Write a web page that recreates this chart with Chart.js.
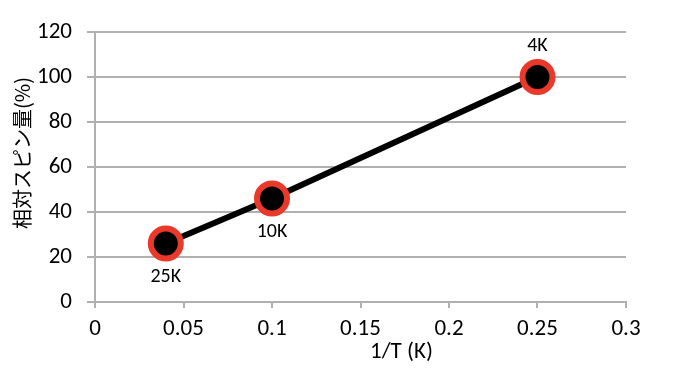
<!DOCTYPE html>
<html>
<head>
<meta charset="utf-8">
<script src="https://cdn.jsdelivr.net/npm/chart.js@4.4.1/dist/chart.umd.min.js"></script>
<style>
  html, body { margin: 0; padding: 0; background: #fff; }
</style>
</head>
<body>
<canvas id="chart" width="674" height="378"></canvas>
<script>
// data
const INV_T = [0.04, 0.1, 0.25];
const SPIN = [26, 46, 100];
const TEMP_LABELS = ['25K', '10K', '4K'];
const LABEL_ABOVE = [false, false, true];

const FONT = "Carlito, Lato, 'Open Sans', sans-serif";
const GRID = '#b0b0b0';

// labels next to the points + axis titles
const textPlugin = {
    id: 'texts',
    afterDatasetsDraw(chart) {
        const ctx = chart.ctx;
        const meta = chart.getDatasetMeta(0);
        ctx.save();
        ctx.fillStyle = '#000';
        ctx.font = '20px ' + FONT;
        ctx.textAlign = 'center';
        ctx.textBaseline = 'middle';
        meta.data.forEach((pt, i) => {
            const dy = LABEL_ABOVE[i] ? -31 : 33;
            ctx.fillText(TEMP_LABELS[i], pt.x, pt.y + dy);
        });
        const area = chart.chartArea;
        // x title
        ctx.font = '23px ' + FONT;
        ctx.fillText('1/T (K)', (area.left + area.right) / 2 + 41, 352);
        // y title
        ctx.translate(22, 153);
        ctx.rotate(-Math.PI / 2);
        ctx.font = "20px 'Noto Sans CJK JP', sans-serif";
        ctx.fillText('相対スピン量(%)', 0, 0);
        ctx.restore();
    }
};

new Chart(document.getElementById('chart'), {
    type: 'scatter',
    data: {
        datasets: [{
            data: INV_T.map((x, i) => ({ x: x, y: SPIN[i] })),
            showLine: true,
            borderColor: '#000',
            borderWidth: 6,
            pointRadius: 15,
            pointHoverRadius: 15,
            pointBackgroundColor: '#000',
            pointBorderColor: '#e8392a',
            pointBorderWidth: 6
        }]
    },
    options: {
        responsive: false,
        animation: false,
        layout: { padding: { top: 32, right: 48, left: 0, bottom: 0 } },
        plugins: {
            legend: { display: false },
            tooltip: { enabled: false }
        },
        scales: {
            x: {
                type: 'linear',
                min: 0,
                max: 0.3,
                afterFit: s => { s.height = 76; },
                ticks: {
                    stepSize: 0.05,
                    color: '#000',
                    padding: 7,
                    font: { family: FONT, size: 23 },
                    callback: v => String(Math.round(v * 100) / 100)
                },
                grid: {
                    drawOnChartArea: false,
                    color: GRID,
                    lineWidth: 2,
                    tickLength: 6
                },
                border: { color: GRID, width: 2 }
            },
            y: {
                min: 0,
                max: 120,
                afterFit: s => { s.width = 95; },
                ticks: {
                    stepSize: 20,
                    color: '#000',
                    padding: 15,
                    font: { family: FONT, size: 23 }
                },
                grid: {
                    color: GRID,
                    lineWidth: 2,
                    tickLength: 8
                },
                border: { color: GRID, width: 2 }
            }
        }
    },
    plugins: [textPlugin]
});
</script>
</body>
</html>
